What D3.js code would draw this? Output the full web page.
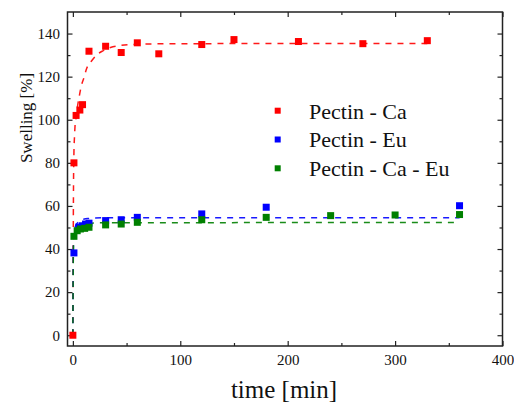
<!DOCTYPE html>
<html><head><meta charset="utf-8">
<script src="https://cdn.jsdelivr.net/npm/d3@7"></script>
<style>body{margin:0;background:#fff}svg{display:block}svg text{font-family:"Liberation Serif","Times New Roman",serif}</style>
</head><body>
<script>
// ---- data ----
const seriesNames = ["Pectin - Ca", "Pectin - Eu", "Pectin - Ca - Eu"];
const seriesColors = ["#ff0000", "#0000ff", "#008000"];
const caT = [0, 1, 3, 6.5, 9, 15, 30.5, 45, 60, 80, 120, 150, 210, 270, 330];
const caY = [0, 80, 102, 104.5, 107, 131.8, 134.1, 131.2, 135.7, 130.6, 134.9, 137.2, 136.3, 135.3, 136.7];
const euT = [1, 5.6, 8.7, 11.8, 15, 30.5, 45, 60, 120, 180, 360];
const euY = [38.2, 50.2, 50.8, 51.6, 52, 53.2, 53.6, 54.7, 56.3, 59.4, 60.1];
const caEuT = [1, 4, 7, 11, 15, 30.5, 45, 60, 120, 180, 240, 300, 360];
const caEuY = [45.9, 48.5, 49.3, 49.6, 50.1, 51.2, 51.6, 52.4, 53.6, 54.7, 55.5, 55.8, 56];
// fitted curves
const caFitT = [0, 0.3, 0.6, 1, 1.5, 2, 3, 4, 6, 8, 10, 13, 17, 22, 28, 35, 45, 60, 100, 330];
const caFitY = [0, 40, 70, 85, 92, 97, 101, 105, 111, 116, 119, 124, 127, 130, 132, 133.5, 134.5, 135, 135.3, 135.4];
const euFitT = [0, 0.3, 0.6, 1, 2, 3, 5, 7, 10, 15, 20, 30, 360];
const euFitY = [0, 30, 44, 48, 50, 51.3, 52.5, 53.2, 53.8, 54.2, 54.4, 54.5, 54.5];
const caEuFitT = [0, 0.3, 0.6, 1, 2, 3, 5, 7, 10, 15, 20, 30, 360];
const caEuFitY = [0, 30, 42, 46, 48, 49.2, 50.3, 51, 51.5, 51.9, 52.1, 52.2, 52.3];
const xTicks = [0, 100, 200, 300, 400];
const xMinor = [50, 150, 250, 350];
const yTicks = [0, 20, 40, 60, 80, 100, 120, 140];
const yMinor = [10, 30, 50, 70, 90, 110, 130];
const xTitle = "time [min]";
const yTitle = "Swelling [%]";

// ---- layout ----
const W = 514, H = 405;
const L = 67.5, R = 502.5, T = 12, B = 346;
const FONT = "Liberation Serif, Times New Roman, serif";
const svg = d3.select("body").append("svg").attr("width", W).attr("height", H)
  .attr("font-family", FONT);
const x = d3.scaleLinear().domain([-5, 400]).range([L, R]);
const y = d3.scaleLinear().domain([-5, 150]).range([B, T]);

const axisColor = "#222";
function styleAxis(g) {
  g.attr("font-family", FONT).attr("font-size", 15);
  g.select(".domain").remove();
  g.selectAll("line").attr("stroke", axisColor).attr("stroke-width", 1.2);
  g.selectAll("text").attr("fill", "#111");
}
// major
svg.append("g").attr("transform", `translate(0,${B})`)
  .call(d3.axisBottom(x).tickValues(xTicks).tickSize(-5).tickPadding(8).tickFormat(d3.format("d"))).call(styleAxis);
svg.append("g").attr("transform", `translate(0,${T})`)
  .call(d3.axisTop(x).tickValues(xTicks).tickSize(-5).tickFormat("")).call(styleAxis);
svg.append("g").attr("transform", `translate(${L},0)`)
  .call(d3.axisLeft(y).tickValues(yTicks).tickSize(-5).tickPadding(7.5).tickFormat(d3.format("d"))).call(styleAxis);
svg.append("g").attr("transform", `translate(${R},0)`)
  .call(d3.axisRight(y).tickValues(yTicks).tickSize(-5).tickFormat("")).call(styleAxis);
// minor
svg.append("g").attr("transform", `translate(0,${B})`)
  .call(d3.axisBottom(x).tickValues(xMinor).tickSize(-3).tickFormat("")).call(styleAxis);
svg.append("g").attr("transform", `translate(0,${T})`)
  .call(d3.axisTop(x).tickValues(xMinor).tickSize(-3).tickFormat("")).call(styleAxis);
svg.append("g").attr("transform", `translate(${L},0)`)
  .call(d3.axisLeft(y).tickValues(yMinor).tickSize(-3).tickFormat("")).call(styleAxis);
svg.append("g").attr("transform", `translate(${R},0)`)
  .call(d3.axisRight(y).tickValues(yMinor).tickSize(-3).tickFormat("")).call(styleAxis);

// frame
svg.append("rect").attr("x", L).attr("y", T).attr("width", R - L).attr("height", B - T)
  .attr("fill", "none").attr("stroke", axisColor).attr("stroke-width", 1.5);

// fits
const line = d3.line().x(d => x(d[0])).y(d => y(d[1])).curve(d3.curveMonotoneX);
const fits = [[caFitT, caFitY], [euFitT, euFitY], [caEuFitT, caEuFitY]];
fits.forEach((f, i) => {
  svg.append("path").datum(f[0].map((t, j) => [t, f[1][j]]))
    .attr("d", line).attr("fill", "none").attr("stroke", seriesColors[i])
    .attr("stroke-width", 1.5).attr("stroke-dasharray", "6,6").attr("opacity", 0.9);
});

// points
const pts = [[caT, caY], [euT, euY], [caEuT, caEuY]];
const ms = 7;
pts.forEach((p, i) => {
  svg.append("g").selectAll("rect").data(p[0].map((t, j) => [t, p[1][j]])).join("rect")
    .attr("x", d => x(d[0]) - ms / 2).attr("y", d => y(d[1]) - ms / 2)
    .attr("width", ms).attr("height", ms).attr("fill", seriesColors[i]);
});

// legend
const lg = svg.append("g");
seriesNames.forEach((n, i) => {
  const yy = 110.7 + i * 28.8;
  lg.append("rect").attr("x", 277.7 - 3).attr("y", yy - 3).attr("width", 6).attr("height", 6).attr("fill", seriesColors[i]);
  lg.append("text").attr("x", 309).attr("y", yy + 7.8).text(n).attr("font-size", 22).attr("fill", "#111");
});

// titles
svg.append("text").attr("x", 284).attr("y", 398).attr("text-anchor", "middle")
  .attr("font-size", 25).attr("fill", "#111").text(xTitle);
svg.append("text").attr("transform", "translate(32,118) rotate(-90)").attr("text-anchor", "middle")
  .attr("font-size", 17).attr("fill", "#111").text(yTitle);
</script>
</body></html>
